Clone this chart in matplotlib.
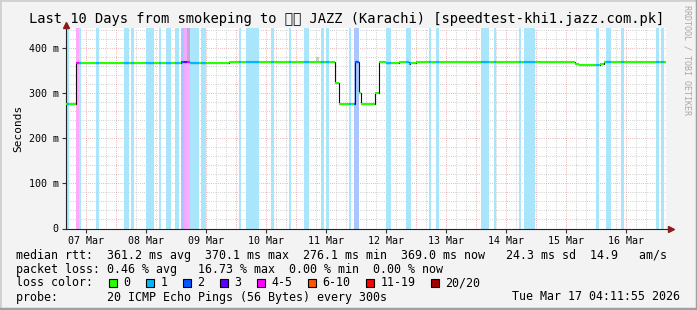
import matplotlib
matplotlib.use('Agg')
import matplotlib.pyplot as plt
import numpy as np
from matplotlib.patches import Rectangle
from matplotlib.lines import Line2D

plt.rcParams['font.family'] = ['DejaVu Sans Mono', 'DejaVu Sans']

# %% data (x = day of March, fractional)
med_edges = [6.667, 6.833, 8.583, 8.733, 9.383, 11.158, 11.217, 11.488, 11.545, 11.578,
             11.822, 11.878, 12.0, 12.217, 12.383, 12.4, 12.5, 15.15, 15.217, 15.567,
             15.633, 16.667]
med_values = [277, 368.5, 371, 368.5, 370.5, 324, 277, 370, 302, 277,
              302, 370.5, 368.5, 370.5, 366, 368.5, 370.5, 366, 363.5, 366,
              370.5]

loss_start = [6.683, 6.833, 6.883, 7.167, 7.633, 7.75, 8.0, 8.217, 8.333, 8.483,
              8.583, 8.633, 8.683, 8.733, 8.917, 9.55, 9.667, 10.083, 10.383, 10.633,
              10.917, 11.0, 11.383, 11.467, 12.0, 12.333, 12.717, 12.833, 13.583, 13.8,
              14.217, 14.3, 15.5, 15.667, 15.917, 16.5, 16.583]
loss_end = [6.725, 6.883, 6.917, 7.217, 7.717, 7.8, 8.133, 8.25, 8.417, 8.55,
            8.633, 8.683, 8.733, 8.883, 9.0, 9.583, 9.883, 10.133, 10.417, 10.717,
            10.967, 11.05, 11.417, 11.55, 12.083, 12.417, 12.75, 12.883, 13.717, 13.833,
            14.25, 14.483, 15.55, 15.75, 15.967, 16.55, 16.633]
loss_cat = [1, 4, 1, 1, 1, 1, 1, 1, 1, 1,
            2, 3, 4, 1, 1, 1, 1, 1, 1, 1,
            1, 1, 1, 2, 1, 1, 1, 1, 1, 1,
            1, 1, 1, 1, 1, 1, 1]

smoke_start = [8.683, 10.833]
smoke_end = [8.733, 10.883]
smoke_low = [371, 373]
smoke_high = [445, 382]

day_ticks = list(range(7, 17))
day_labels = [f'{d:02d} Mar' for d in day_ticks]
y_ticks = [0, 100, 200, 300, 400]

loss_labels = ['0', '1', '2', '3', '4-5', '6-10', '11-19', '20/20']
loss_colors = ['#26ff00', '#00b8ff', '#0059ff', '#5e00ff', '#ff00ff', '#ff5500', '#ff0000', '#a10000']
stripe_colors = {1: '#aae6fb', 2: '#aac6ff', 3: '#f0aaff', 4: '#ffaaff'}

title = 'Last 10 Days from smokeping to \U0001F1F5\U0001F1F0 JAZZ (Karachi) [speedtest-khi1.jazz.com.pk]'
rows = [
    'median rtt:  361.2 ms avg  370.1 ms max  276.1 ms min  369.0 ms now   24.3 ms sd  14.9   am/s',
    'packet loss: 0.46 % avg   16.73 % max  0.00 % min  0.00 % now',
    'loss color:',
    'probe:       20 ICMP Echo Pings (56 Bytes) every 300s',
]
stamp = 'Tue Mar 17 04:11:55 2026'

# %% figure
W, H = 697, 310
fig = plt.figure(figsize=(W / 100, H / 100), dpi=100, facecolor='#f3f3f3')

def fx(px):
    return px / W

def fy(py):
    return 1 - py / H

ax = fig.add_axes([fx(66), fy(228.5), 600 / W, 200.5 / H])
ax.set_facecolor('white')
ax.set_xlim(6.667, 16.667)
ax.set_ylim(0, 445.5)

# grid
dots = (0, (0.72, 1.44))
for v in np.arange(20, 445, 20):
    major = v % 100 == 0
    ax.axhline(v, color='#e0a0a0' if major else '#c4c4c4', lw=0.72, ls=dots, zorder=0.3)
for v in np.arange(6.667 + 1 / 6, 16.667, 1 / 6):
    major = abs(v * 2 - round(v * 2)) < 1e-3
    ax.axvline(v, color='#e0a0a0' if major else '#c4c4c4', lw=0.72, ls=dots, zorder=0.3)

# loss stripes
for s, e, c in zip(loss_start, loss_end, loss_cat):
    ax.axvspan(s, e, color=stripe_colors[c], lw=0, zorder=0.5)

# smoke
for s, e, lo, hi in zip(smoke_start, smoke_end, smoke_low, smoke_high):
    ax.fill_between([s, e], lo, hi, color='#9a9a9a', alpha=0.45, lw=0, zorder=0.8)

# median line
ax.stairs(med_values, med_edges, baseline=None, color='#111111', lw=0.8, zorder=2)
ax.hlines(med_values, med_edges[:-1], med_edges[1:], color=loss_colors[0], lw=1.5,
          zorder=3, capstyle='butt')
for s, e, c in zip(loss_start, loss_end, loss_cat):
    for i, v in enumerate(med_values):
        a, b = max(s, med_edges[i]), min(e, med_edges[i + 1])
        if b > a:
            ax.hlines(v, a, b, color=loss_colors[c], lw=1.5, zorder=4, capstyle='butt')

# axes
for side in ['top', 'right']:
    ax.spines[side].set_visible(False)
for side in ['left', 'bottom']:
    ax.spines[side].set_color('#222222')
    ax.spines[side].set_linewidth(0.8)
ax.spines['bottom'].set_bounds(6.667, 16.72)
ax.spines['left'].set_bounds(0, 450)
ax.plot([16.75], [0], marker='>', color='#8b1a1a', ms=5, clip_on=False, zorder=5)
ax.plot([6.667], [452], marker='^', color='#8b1a1a', ms=5, clip_on=False, zorder=5)

ax.set_xticks(day_ticks)
ax.set_xticklabels(day_labels)
ax.set_yticks(y_ticks)
ax.set_yticklabels([f'{v} m' if v else '0' for v in y_ticks])
ax.tick_params(axis='both', length=3, width=0.8, color='#333333', labelsize=7.2, pad=2.2)
ax.set_ylabel('Seconds', fontsize=8, labelpad=4)

# texts
fig.text(fx(347), fy(23), title, ha='center', va='baseline', fontsize=9.9,
         family=['DejaVu Sans Mono', 'Noto Sans CJK JP', 'Noto Sans', 'DejaVu Sans'])
for k, row in enumerate(rows):
    fig.text(fx(16), fy(258.5 + 14 * k), row, ha='left', va='baseline', fontsize=8.4)
fig.text(fx(680), fy(300.5), stamp, ha='right', va='baseline', fontsize=8.4)

bx = 108.7
for lab, col in zip(loss_labels, loss_colors):
    fig.add_artist(Rectangle((fx(bx), fy(286.5)), 8 / W, 8 / H, transform=fig.transFigure,
                             facecolor=col, edgecolor='black', lw=0.8))
    fig.text(fx(bx + 14.5), fy(286.5), lab, ha='left', va='baseline', fontsize=8.4)
    bx += 14.5 + len(lab) * 7.02 + 15.5

fig.text(fx(687), fy(5), 'RRDTOOL / TOBI OETIKER', rotation=270, ha='center', va='top',
         fontsize=6, color='#a8a8a8')

# frame
fig.add_artist(Line2D([0, 0, 1], [0, 1, 1], transform=fig.transFigure, color='#d0d0d0', lw=2))
fig.add_artist(Line2D([0, 1, 1], [0.004, 0.004, 1], transform=fig.transFigure, color='#a0a0a0', lw=2.5))

fig.savefig('out.png', dpi=100, facecolor=fig.get_facecolor())
